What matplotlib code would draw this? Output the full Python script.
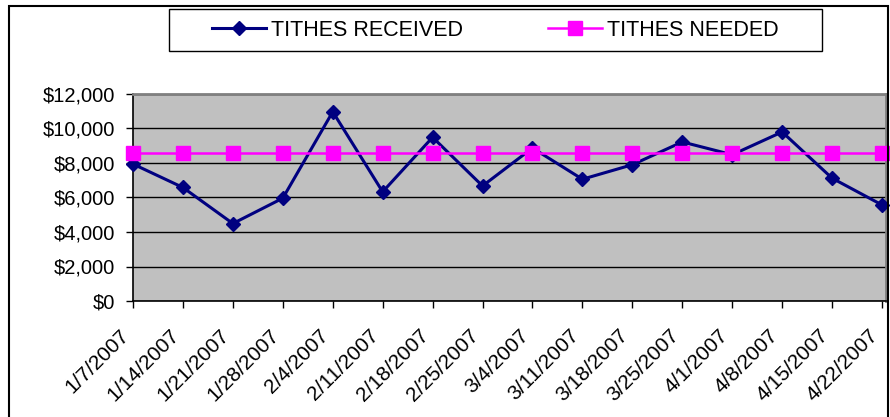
import matplotlib
matplotlib.use('Agg')
import matplotlib.pyplot as plt
from matplotlib.patches import Rectangle
from matplotlib.ticker import FuncFormatter

plt.rcParams['font.family'] = ['Liberation Sans', 'DejaVu Sans']

# data
dates = ['1/7/2007', '1/14/2007', '1/21/2007', '1/28/2007', '2/4/2007', '2/11/2007',
         '2/18/2007', '2/25/2007', '3/4/2007', '3/11/2007', '3/18/2007', '3/25/2007',
         '4/1/2007', '4/8/2007', '4/15/2007', '4/22/2007']
received = [7940, 6580, 4490, 5960, 10970, 6330, 9490, 6670, 8870, 7060, 7900, 9220,
            8480, 9800, 7120, 5570]
needed = [8580] * len(dates)

W, H = 890, 417
fig = plt.figure(figsize=(W / 100, H / 100), dpi=100)
ax = fig.add_axes([133 / W, 1 - 301 / H, (886 - 133) / W, (301 - 94) / H])
ax.set_facecolor('#C0C0C0')

x = list(range(len(dates)))
ax.plot(x, received, color='#000080', lw=2.2, marker='D', ms=7, mec='#000080',
        label='TITHES RECEIVED', zorder=3, clip_on=False)
ax.plot(x, needed, color='#FF00FF', lw=1.8, marker='s', ms=10, mec='#FF00FF',
        label='TITHES NEEDED', zorder=4, clip_on=False)

ax.set_xlim(0, 15.08)
ax.set_ylim(0, 12000)
ax.set_yticks(range(0, 12001, 2000))
ax.yaxis.set_major_formatter(FuncFormatter(lambda v, p: '${:,.0f}'.format(v)))
ax.set_xticks(x)
ax.set_xticklabels(dates, rotation=45, ha='right')
ax.tick_params(axis='both', direction='out', length=5, width=1, color='black')
ax.tick_params(axis='y', pad=8, labelsize=14.5)
ax.tick_params(axis='x', pad=13, labelsize=15)
ax.grid(axis='y', color='black', lw=1)
ax.set_axisbelow(True)

for s in ['top', 'right']:
    ax.spines[s].set_color('#808080')
    ax.spines[s].set_linewidth(2)
for s in ['left', 'bottom']:
    ax.spines[s].set_color('black')
    ax.spines[s].set_linewidth(1.2)

# legend box + outer chart border
fig.patches.append(Rectangle((169 / W, 1 - 51 / H), (822 - 169) / W, 42 / H,
                             transform=fig.transFigure, fill=False, ec='black', lw=1))
fig.patches.append(Rectangle((9 / W, -0.05), (888 - 9) / W, 1.05 - 6 / H,
                             transform=fig.transFigure, fill=False, ec='black', lw=1.5))
fig.legend(loc='center', bbox_to_anchor=(495.5 / W, 1 - 30 / H), ncol=2, frameon=False,
           fontsize=15.5, handlelength=2.5, handletextpad=0.23, columnspacing=3.95)

fig.savefig('out.png', dpi=100)
